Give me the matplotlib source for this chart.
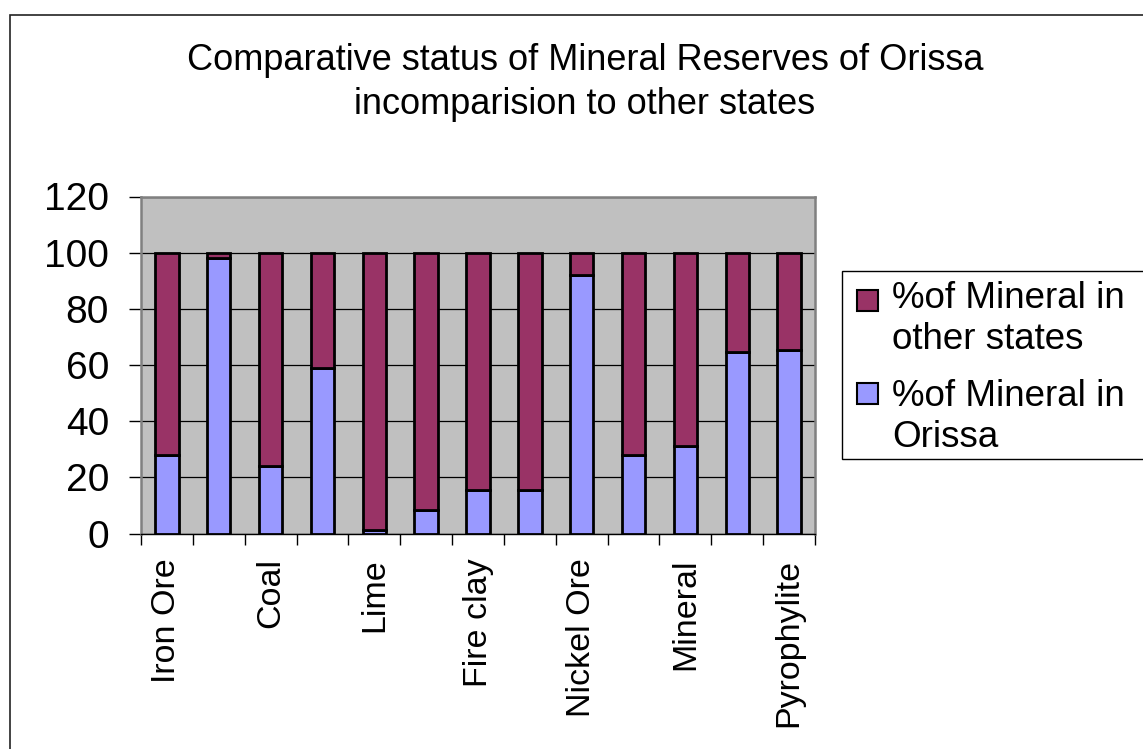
import matplotlib
matplotlib.use("Agg")
import matplotlib.pyplot as plt
from matplotlib.patches import Rectangle
import numpy as np

plt.rcParams['font.family'] = ['Liberation Sans', 'DejaVu Sans']

# ---- data ----
categories = ["Iron Ore", "", "Coal", "", "Lime", "", "Fire clay", "",
              "Nickel Ore", "", "Mineral", "", "Pyrophylite"]
orissa = [28, 98, 24, 59, 1.2, 8.3, 15.5, 15.5, 92, 28, 31, 64.5, 65.5]
other_states = [72, 2, 76, 41, 98.8, 91.7, 84.5, 84.5, 8, 72, 69, 35.5, 34.5]
series_labels = ["%of Mineral in\nother states", "%of Mineral in\nOrissa"]
title_lines = ["Comparative status of Mineral Reserves of Orissa",
               "incomparision to other states"]
yticks = [0, 20, 40, 60, 80, 100, 120]

c_other = "#993366"
c_orissa = "#9999FF"

W, H = 1143, 749
fig = plt.figure(figsize=(W / 100, H / 100), dpi=100)

# outer chart border
fig.patches.append(Rectangle((10 / W, -0.1), 1.2, 1 - 15 / H + 0.1,
                             transform=fig.transFigure, fill=False,
                             edgecolor="#222222", linewidth=1.2))

ax = fig.add_axes([141 / W, 1 - 533.5 / H, (815 - 141) / W, (533.5 - 196.5) / H])
ax.set_facecolor("#C0C0C0")

x = np.arange(len(categories))
bw = 0.45
ax.bar(x, orissa, bw, color=c_orissa, edgecolor="black", linewidth=2.0, zorder=3)
ax.bar(x, other_states, bw, bottom=orissa, color=c_other, edgecolor="black",
       linewidth=2.0, zorder=3)

ax.set_xlim(-0.5, len(categories) - 0.5)
ax.set_ylim(0, 120)
ax.set_yticks(yticks)
ax.yaxis.grid(True, color="black", linewidth=0.9, zorder=1)
ax.set_axisbelow(True)

ax.tick_params(axis="y", direction="out", length=9, width=1, pad=14,
               labelsize=28, colors="black")
ax.set_xticks(x)
ax.set_xticklabels(categories, rotation=90, fontsize=24.5, va="top", ha="center")
ax.tick_params(axis="x", which="major", length=0, pad=18)
ax.set_xticks(np.arange(-0.5, len(categories)), minor=True)
ax.tick_params(axis="x", which="minor", direction="out", length=8, width=1,
               color="black")

for s in ["top", "right", "left"]:
    ax.spines[s].set_color("#808080")
    ax.spines[s].set_linewidth(1.8)
ax.spines["bottom"].set_color("black")
ax.spines["bottom"].set_linewidth(1.0)

# title
for line, yc in zip(title_lines, [60, 105]):
    fig.text(585 / W, 1 - yc / H, line, ha="center", va="center", fontsize=26)

# legend (handle aligned with first text line)
fig.patches.append(Rectangle((842 / W, 1 - 459 / H), 0.5, (459 - 271) / H,
                             transform=fig.transFigure, facecolor="white",
                             edgecolor="black", linewidth=1.0, zorder=5))
handle_colors = [c_other, c_orissa]
handle_tops = [290, 383]
text_centers = [319, 417]
for lab, col, ht, tc in zip(series_labels, handle_colors, handle_tops, text_centers):
    fig.patches.append(Rectangle((857 / W, 1 - (ht + 21) / H), 21 / W, 21 / H,
                                 transform=fig.transFigure, facecolor=col,
                                 edgecolor="black", linewidth=1.5, zorder=6))
    fig.text(892 / W, 1 - tc / H, lab, ha="left", va="center", fontsize=26.5,
             linespacing=1.2, zorder=6)

fig.savefig("out.png", dpi=100)
